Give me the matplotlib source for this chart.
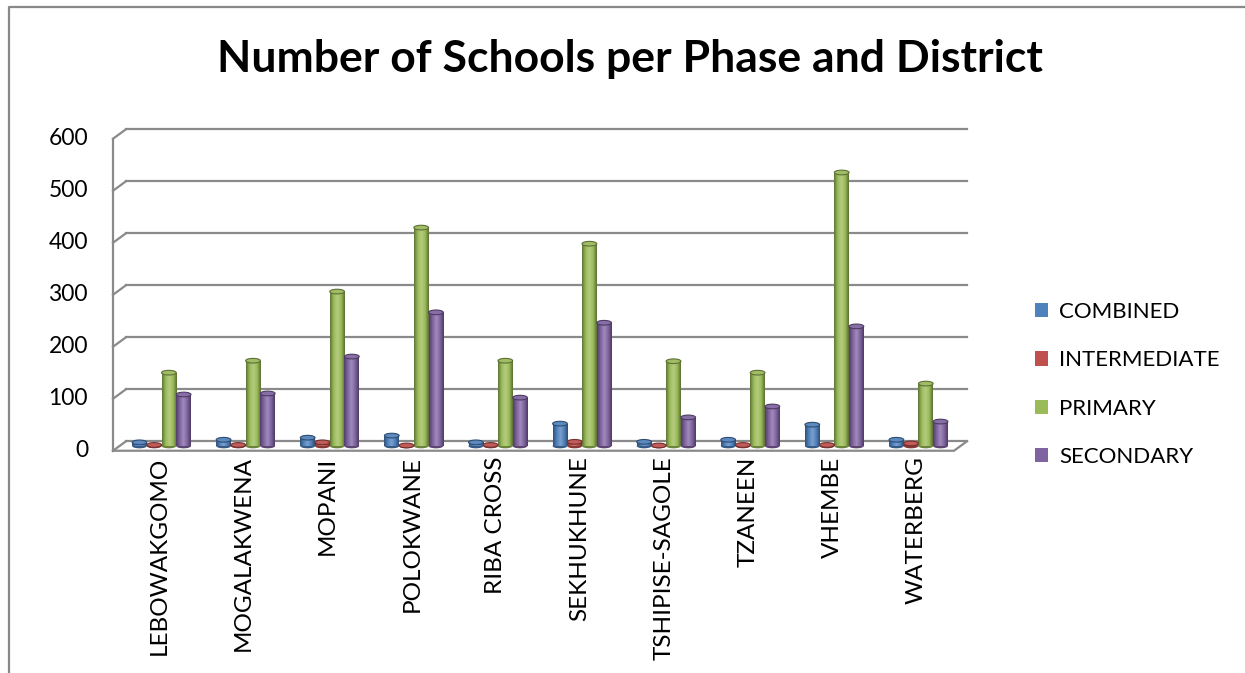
import numpy as np
import matplotlib.pyplot as plt
from matplotlib.colors import LinearSegmentedColormap, to_rgb
from matplotlib.patches import Rectangle, Ellipse, Patch
from matplotlib.lines import Line2D

districts = ["LEBOWAKGOMO", "MOGALAKWENA", "MOPANI", "POLOKWANE", "RIBA CROSS",
             "SEKHUKHUNE", "TSHIPISE-SAGOLE", "TZANEEN", "VHEMBE", "WATERBERG"]
combined = [7, 12, 16, 20, 7, 43, 8, 12, 41, 12]
intermediate = [2, 2, 7, 1, 2, 8, 1, 2, 2, 5]
primary = [141, 164, 297, 420, 164, 389, 163, 141, 526, 120]
secondary = [99, 101, 172, 257, 93, 237, 55, 76, 230, 47]
series_names = ["COMBINED", "INTERMEDIATE", "PRIMARY", "SECONDARY"]
colors = ["#4F81BD", "#C0504D", "#9BBB59", "#8064A2"]
y_ticks = [0, 100, 200, 300, 400, 500, 600]

plt.rcParams['font.family'] = ['Lato', 'DejaVu Sans']

fig = plt.figure(figsize=(12.45, 6.73), dpi=100)
ax = fig.add_axes([119.5 / 1245, 1 - 446 / 673, 841 / 1245, 312 / 673])
ax.set_xlim(-0.5, 9.5)
ax.set_ylim(0, 600)
ax.axis("off")

# depth of the fake 3D box, in data units
DX = 13 / 84.1
DY = 9.5 / 0.52
grid_c = "#8a8a8a"
x0, x1 = -0.5, 9.5

# -------- walls / floor --------
for v in y_ticks:
    ax.plot([x0 + DX / 2, x1 + DX / 2], [v + DY / 2, v + DY / 2],
            color=grid_c, lw=1.6, zorder=1, clip_on=False)
    ax.plot([x0 - DX / 2, x0 + DX / 2], [v - DY / 2, v + DY / 2],
            color=grid_c, lw=1.6, zorder=1, clip_on=False)
    ax.annotate(str(v), (x0 - DX / 2, v - DY / 2), xytext=(-18, 0),
                textcoords="offset points", ha="right", va="center",
                fontsize=16.5, color="black", annotation_clip=False)
ax.plot([x0 - DX / 2, x0 - DX / 2], [-DY / 2, 600 - DY / 2],
        color=grid_c, lw=1.6, zorder=1, clip_on=False)
ax.plot([x0 - DX / 2, x1 - DX / 2, x1 + DX / 2], [-DY / 2, -DY / 2, DY / 2],
        color=grid_c, lw=1.6, zorder=1, clip_on=False)


def shade_cmap(c):
    r = np.array(to_rgb(c))
    dark = r * 0.62
    light = np.clip(r + (1 - r) * 0.25, 0, 1)
    return LinearSegmentedColormap.from_list(
        "s", [dark, r, light, r, dark * 0.95], N=64)


# -------- cylinders --------
w = 0.175
ex = np.linspace(0, 1, 64).reshape(1, -1)
data = [combined, intermediate, primary, secondary]
for k, (vals, c) in enumerate(zip(data, colors)):
    cmap = shade_cmap(c)
    rgb = np.array(to_rgb(c))
    for i, v in enumerate(vals):
        xc = i + (k - 1.5) * w
        eh = 9.0
        bottom = Ellipse((xc, 0), w, eh, facecolor=rgb * 0.7, edgecolor="none",
                         zorder=3, clip_on=False)
        ax.add_patch(bottom)
        rect = Rectangle((xc - w / 2, 0), w, v, facecolor=c, edgecolor="none",
                         zorder=3, clip_on=False)
        ax.add_patch(rect)
        im = ax.imshow(ex, cmap=cmap, extent=[xc - w / 2, xc + w / 2, 0, v],
                       aspect="auto", zorder=3.5, interpolation="bilinear")
        im.set_clip_path(rect)
        top = Ellipse((xc, v), w, eh, facecolor=np.clip(rgb * 0.9 + 0.08, 0, 1),
                      edgecolor=rgb * 0.6, lw=0.8, zorder=4, clip_on=False)
        ax.add_patch(top)

ax.set_xlim(-0.5, 9.5)
ax.set_ylim(0, 600)

# -------- category labels --------
for i, name in enumerate(districts):
    ax.annotate(name, (i, -DY / 2), xytext=(-1.5, -4), textcoords="offset points",
                rotation=90, ha="center", va="top", fontsize=17.5,
                annotation_clip=False)

# -------- title, legend, frame --------
fig.text(630 / 1245, 1 - 59 / 673, "Number of Schools per Phase and District",
         ha="center", va="center", fontsize=32, fontweight="bold")

handles = [Patch(facecolor=c, edgecolor="none") for c in colors]
fig.legend(handles, series_names, loc="upper left",
           bbox_to_anchor=(1026 / 1245, 1 - 293 / 673), frameon=False,
           fontsize=16, handlelength=0.6, handleheight=0.6, handletextpad=0.5,
           labelspacing=1.28, borderaxespad=0)

fig.add_artist(Line2D([9 / 1245, 9 / 1245, 1], [0, 1 - 6.5 / 673, 1 - 6.5 / 673],
                      transform=fig.transFigure, color="#888888", lw=1.6))

fig.savefig("out.png", dpi=100)
